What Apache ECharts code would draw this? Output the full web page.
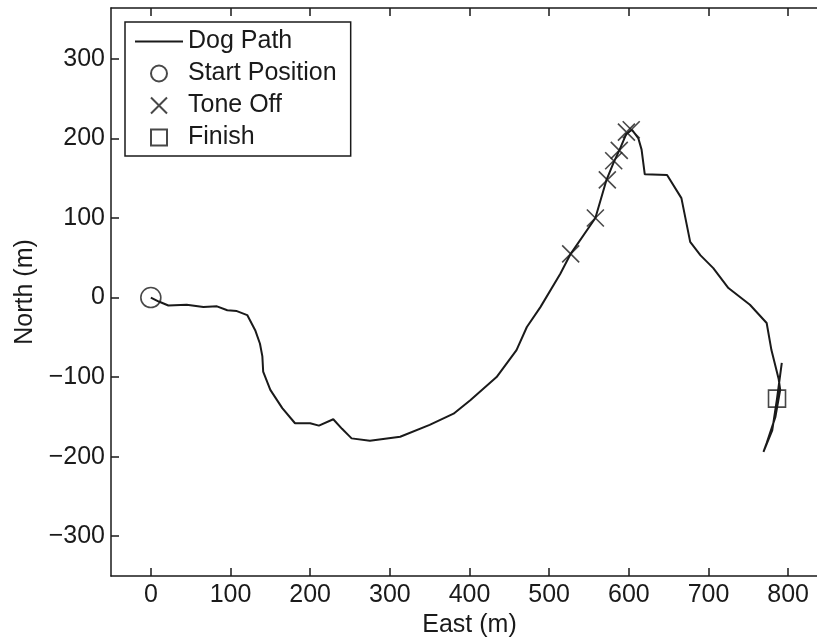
<!DOCTYPE html>
<html>
<head>
<meta charset="utf-8">
<script src="https://cdn.jsdelivr.net/npm/echarts@6/dist/echarts.min.js"></script>
<style>html,body{margin:0;padding:0;background:#fff;}#c{width:817px;height:637px;}</style>
</head>
<body>
<div id="c"></div>
<script>
// Dog path (East, North) in metres
const pathEast  = [0, 10, 22, 45, 66, 83, 96, 108, 121, 131, 137, 140, 141, 150, 165, 181, 200, 211, 229, 240, 252, 275, 313, 350, 380, 401, 434, 459, 472, 489, 514, 527, 558, 572, 581, 588, 597, 604, 612, 616, 620, 648, 666, 677, 690, 706, 725, 752, 773, 779, 788, 790, 784, 773, 769, 780, 786, 792];
const pathNorth = [0, -5, -10, -9, -12, -11, -16, -17, -22, -41, -58, -74, -93, -116, -139, -158, -158, -161, -153, -165, -177, -180, -175, -160, -146, -129, -100, -66, -37, -12, 30, 55, 100, 148, 170, 185, 206, 211, 200, 186, 155, 154, 125, 70, 53, 37, 12, -9, -32, -66, -102, -116, -150, -183, -194, -167, -127, -82];
const startEast = [0], startNorth = [0];
const toneEast  = [527, 558, 573, 581, 588, 597, 603];
const toneNorth = [55, 100, 148, 172, 185, 208, 211];
const finishEast = [786], finishNorth = [-127];
const xTicks = [0, 100, 200, 300, 400, 500, 600, 700, 800];
const yTicks = [-300, -200, -100, 0, 100, 200, 300];

const zip = (a, b) => a.map((v, i) => [v, b[i]]);
const FONT = 'Liberation Sans, Arial, sans-serif';
const INK = '#1a1a1a';
const FS = 25;
const fmt = v => (v < 0 ? '\u2212' + Math.abs(v) : String(v));

const chart = echarts.init(document.getElementById('c'), null, {renderer: 'canvas'});
chart.setOption({
  animation: false,
  backgroundColor: '#fff',
  textStyle: {fontFamily: FONT, color: INK},
  grid: {left: 111, top: 8, right: -11, bottom: 61, containLabel: false, outerBoundsMode: 'none'},
  legend: {
    orient: 'vertical', left: 125, top: 22,
    padding: [7, 14, 6, 10],
    itemGap: 7, itemWidth: 48, itemHeight: 16,
    borderColor: INK, borderWidth: 1.5, backgroundColor: '#fff',
    textStyle: {fontFamily: FONT, fontSize: FS, color: INK, lineHeight: 25},
    data: [
      {name: 'Dog Path', icon: 'path://M0,0H48V1.8H0Z'},
      {name: 'Start Position'},
      {name: 'Tone Off'},
      {name: 'Finish', icon: 'path://M0,0H10V10H0Z'}
    ]
  },
  xAxis: [{
    type: 'value', min: -50, max: 850, position: 'bottom',
    name: 'East (m)', nameLocation: 'middle', nameGap: 35,
    nameTextStyle: {fontFamily: FONT, fontSize: FS, color: INK},
    axisLine: {onZero: false, lineStyle: {color: INK, width: 1.5}},
    axisTick: {inside: true, length: 8, customValues: xTicks, lineStyle: {color: INK, width: 1.5}},
    axisLabel: {customValues: xTicks, fontFamily: FONT, fontSize: FS, color: INK, margin: 7, formatter: fmt},
    splitLine: {show: false}
  }, {
    type: 'value', min: -50, max: 850, position: 'top',
    axisLine: {onZero: false, lineStyle: {color: INK, width: 1.5}},
    axisTick: {inside: true, length: 8, customValues: xTicks, lineStyle: {color: INK, width: 1.5}},
    axisLabel: {show: false},
    splitLine: {show: false}
  }],
  yAxis: [{
    type: 'value', min: -350, max: 364, position: 'left',
    name: 'North (m)', nameLocation: 'middle', nameGap: 70,
    nameTextStyle: {fontFamily: FONT, fontSize: FS, color: INK},
    axisLine: {onZero: false, lineStyle: {color: INK, width: 1.5}},
    axisTick: {inside: true, length: 8, customValues: yTicks, lineStyle: {color: INK, width: 1.5}},
    axisLabel: {customValues: yTicks, fontFamily: FONT, fontSize: FS, color: INK, margin: 6, formatter: fmt},
    splitLine: {show: false}
  }],
  series: [{
    name: 'Dog Path', type: 'line', data: zip(pathEast, pathNorth),
    symbol: 'none', smooth: false,
    lineStyle: {color: INK, width: 2},
    itemStyle: {color: INK}
  }, {
    name: 'Start Position', type: 'scatter', data: zip(startEast, startNorth),
    symbol: 'circle', symbolSize: 20,
    itemStyle: {color: 'transparent', borderColor: INK, borderWidth: 1.6}
  }, {
    name: 'Tone Off', type: 'scatter', data: zip(toneEast, toneNorth),
    symbol: 'path://M0,0L10,10M10,0L0,10', symbolSize: 17,
    itemStyle: {color: 'transparent', borderColor: INK, borderWidth: 1.6}
  }, {
    name: 'Finish', type: 'scatter', data: zip(finishEast, finishNorth),
    symbol: 'rect', symbolSize: 17,
    itemStyle: {color: 'transparent', borderColor: INK, borderWidth: 1.6}
  }]
});
</script>
</body>
</html>
